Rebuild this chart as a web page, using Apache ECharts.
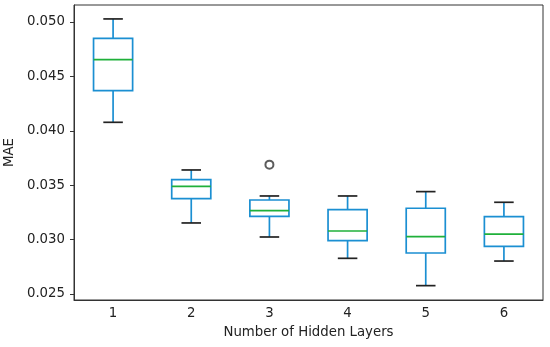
<!DOCTYPE html>
<html>
<head>
<meta charset="utf-8">
<script src="https://cdn.jsdelivr.net/npm/echarts@6/dist/echarts.min.js"></script>
<style>html,body{margin:0;padding:0;background:#fff;}#c{width:550px;height:347px;}</style>
</head>
<body>
<div id="c"></div>
<script>
const categories = ['1', '2', '3', '4', '5', '6'];
const whiskerLow = [0.04078, 0.03153, 0.03024, 0.02828, 0.02577, 0.02803];
const q1 = [0.04369, 0.03376, 0.03214, 0.02990, 0.02877, 0.02938];
const median = [0.04654, 0.03490, 0.03266, 0.03079, 0.03027, 0.03051];
const q3 = [0.04850, 0.03551, 0.03364, 0.03275, 0.03288, 0.03211];
const whiskerHigh = [0.05028, 0.03640, 0.03401, 0.03401, 0.03441, 0.03343];
const outlierCategory = ['3'];
const outlierValue = [0.03689];
const yTicks = [0.025, 0.030, 0.035, 0.040, 0.045, 0.050];

const boxData = categories.map((c, i) => [i, whiskerLow[i], q1[i], median[i], q3[i], whiskerHigh[i]]);
const outlierData = outlierCategory.map((c, i) => [c, outlierValue[i]]);

const BLUE = '#1b8fd2', GREEN = '#1fb03a', CAP = '#222', TXT = '#222';
const FONT = 'DejaVu Sans';

function renderBox(params, api) {
  const idx = api.value(0);
  const band = api.size([1, 0])[0];
  const bw = band * 0.5, cw = band * 0.25;
  const pLo = api.coord([idx, api.value(1)]);
  const pQ1 = api.coord([idx, api.value(2)]);
  const pMed = api.coord([idx, api.value(3)]);
  const pQ3 = api.coord([idx, api.value(4)]);
  const pHi = api.coord([idx, api.value(5)]);
  const cx = pMed[0];
  const lw = 1.7;
  return {
    type: 'group',
    children: [
      { type: 'line', shape: { x1: cx, y1: pQ1[1], x2: cx, y2: pLo[1] }, style: { stroke: BLUE, lineWidth: lw } },
      { type: 'line', shape: { x1: cx, y1: pQ3[1], x2: cx, y2: pHi[1] }, style: { stroke: BLUE, lineWidth: lw } },
      { type: 'rect', shape: { x: cx - bw / 2, y: pQ3[1], width: bw, height: pQ1[1] - pQ3[1] }, style: { fill: 'none', stroke: BLUE, lineWidth: lw } },
      { type: 'line', shape: { x1: cx - bw / 2, y1: pMed[1], x2: cx + bw / 2, y2: pMed[1] }, style: { stroke: GREEN, lineWidth: lw } },
      { type: 'line', shape: { x1: cx - cw / 2, y1: pLo[1], x2: cx + cw / 2, y2: pLo[1] }, style: { stroke: CAP, lineWidth: lw } },
      { type: 'line', shape: { x1: cx - cw / 2, y1: pHi[1], x2: cx + cw / 2, y2: pHi[1] }, style: { stroke: CAP, lineWidth: lw } }
    ]
  };
}

const chart = echarts.init(document.getElementById('c'), null, { renderer: 'canvas' });
chart.setOption({
  animation: false,
  backgroundColor: '#fff',
  textStyle: { fontFamily: FONT },
  grid: { left: 74, right: 7, top: 5, bottom: 47, containLabel: false, outerBoundsMode: 'none', show: true, borderColor: '#333', borderWidth: 1, backgroundColor: 'transparent' },
  xAxis: {
    type: 'category',
    data: categories,
    name: 'Number of Hidden Layers',
    nameLocation: 'middle',
    nameGap: 26,
    nameTextStyle: { color: TXT, fontSize: 13.3, fontFamily: FONT },
    axisLine: { lineStyle: { color: '#333', width: 1 } },
    axisTick: { alignWithLabel: true, length: 4, lineStyle: { color: '#333' } },
    axisLabel: { color: TXT, fontSize: 13.3, fontFamily: FONT, margin: 7 },
    splitLine: { show: false }
  },
  yAxis: {
    type: 'value',
    min: 0.02445,
    max: 0.05156,
    name: 'MAE',
    nameLocation: 'middle',
    nameGap: 50,
    nameTextStyle: { color: TXT, fontSize: 13.3, fontFamily: FONT },
    axisLine: { show: true, lineStyle: { color: '#333', width: 1 } },
    axisTick: { show: true, length: 4, customValues: yTicks, lineStyle: { color: '#333' } },
    axisLabel: { color: TXT, fontSize: 13.3, fontFamily: FONT, margin: 9, customValues: yTicks, formatter: v => v.toFixed(3) },
    splitLine: { show: false }
  },
  series: [
    { type: 'custom', renderItem: renderBox, data: boxData, encode: { x: 0, y: [1, 2, 3, 4, 5] }, z: 3 },
    { type: 'scatter', data: outlierData, symbol: 'emptyCircle', symbolSize: 8, itemStyle: { color: '#333', borderColor: '#333', borderWidth: 1.6 }, z: 4 }
  ]
});
</script>
</body>
</html>
